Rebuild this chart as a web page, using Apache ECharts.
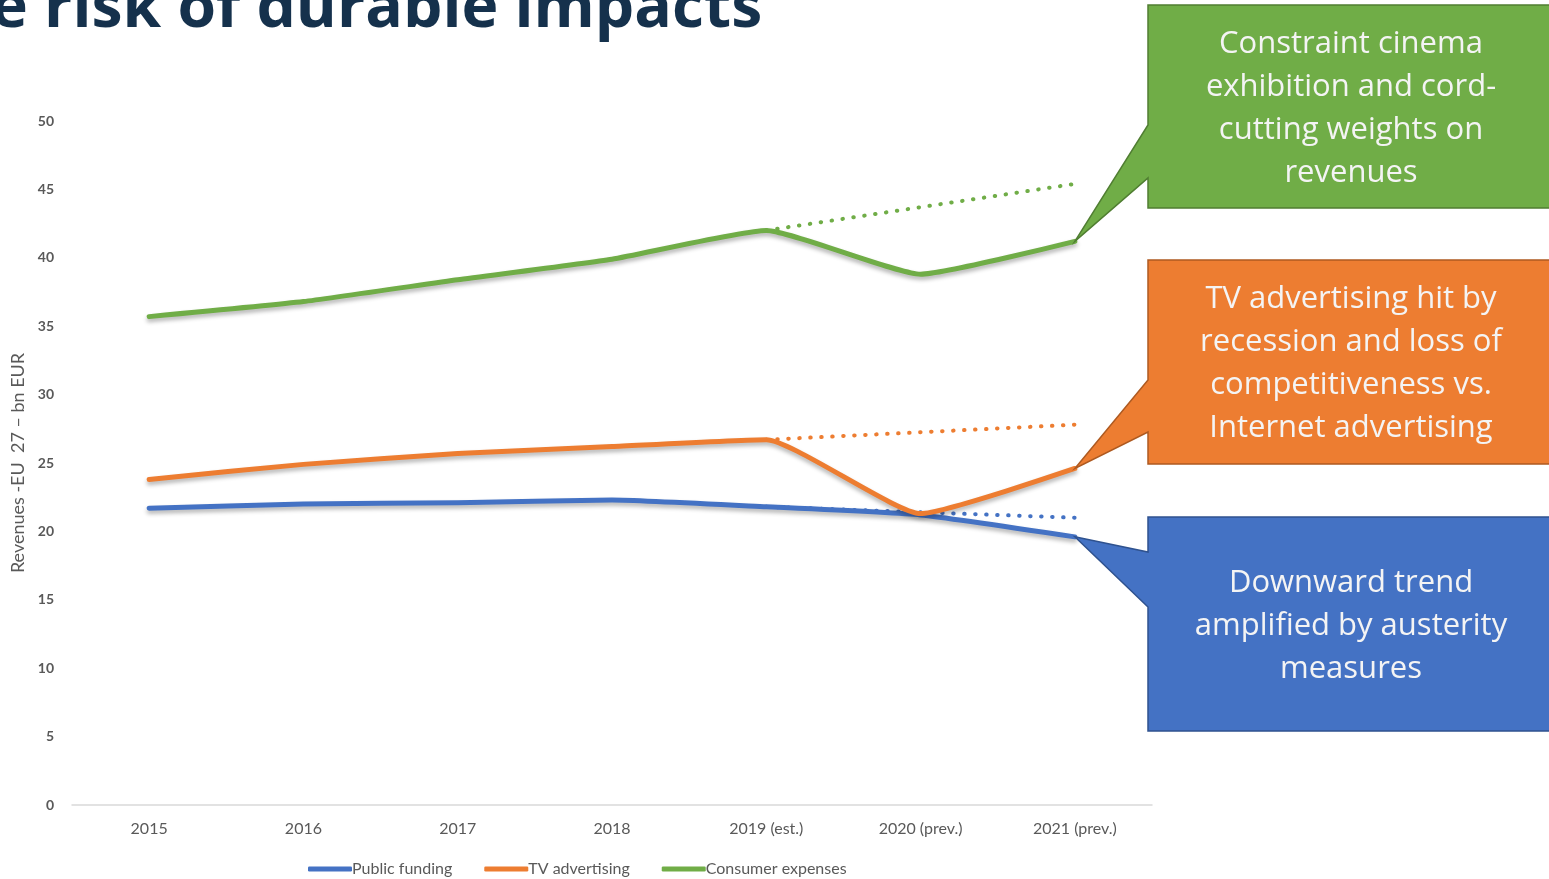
<!DOCTYPE html>
<html>
<head>
<meta charset="utf-8">
<script src="https://cdn.jsdelivr.net/npm/echarts@6/dist/echarts.min.js"></script>
<style>
  html, body { margin: 0; padding: 0; background: #fff; }
  #main { width: 1549px; height: 879px; }
</style>
</head>
<body>
<div id="main"></div>
<script>
// categories and values (bn EUR)
const years = ['2015', '2016', '2017', '2018', '2019 (est.)', '2020 (prev.)', '2021 (prev.)'];
const publicFunding = [21.7, 22.0, 22.1, 22.3, 21.8, 21.2, 19.6];
const tvAdvertising = [23.8, 24.9, 25.7, 26.2, 26.7, 21.3, 24.6];
const consumerExpenses = [35.7, 36.8, 38.4, 39.9, 42.0, 38.8, 41.2];
// pre-crisis trend lines (dotted), 2019 -> 2021
const publicTrend = [null, null, null, null, 21.8, null, 21.0];
const tvTrend = [null, null, null, null, 26.7, null, 27.8];
const consumerTrend = [null, null, null, null, 42.0, null, 45.4];

const yTicks = { min: 0, max: 50, interval: 5 };

const callouts = [
  { series: 'Consumer expenses', color: '#70AD47', border: '#507E32', top: 5, bottom: 208, base: [125, 178],
    text: 'Constraint cinema\nexhibition and cord-\ncutting weights on\nrevenues' },
  { series: 'TV advertising', color: '#ED7D31', border: '#AE5A21', top: 260, bottom: 464, base: [380, 432],
    text: 'TV advertising hit by\nrecession and loss of\ncompetitiveness vs.\nInternet advertising' },
  { series: 'Public funding', color: '#4472C4', border: '#2F528F', top: 517, bottom: 731, base: [552, 607],
    text: 'Downward trend\namplified by austerity\nmeasures' }
];

const myChart = echarts.init(document.getElementById('main'));

const shadow = { shadowColor: 'rgba(0,0,0,0.3)', shadowBlur: 4, shadowOffsetY: 3 };

function solid(name, color, data) {
  return {
    name, type: 'line', data, smooth: 0.15, symbol: 'none',
    lineStyle: Object.assign({ color, width: 5, cap: 'round', join: 'round' }, shadow),
    itemStyle: { color }, z: 3
  };
}
function dotted(name, color, data) {
  return {
    name, type: 'line', data, connectNulls: true, symbol: 'none',
    lineStyle: { color, width: 4, type: [0.5, 10.5], cap: 'round' },
    itemStyle: { color }, z: 2
  };
}

const option = {
  animation: false,
  grid: { left: 72, right: 397, top: 121, bottom: 74 },
  legend: {
    data: ['Public funding', 'TV advertising', 'Consumer expenses'],
    bottom: 2, left: 308, padding: 0, icon: 'roundRect', itemWidth: 44, itemHeight: 5, itemGap: 32,
    textStyle: { fontFamily: 'Lato', fontSize: 16, color: '#595959', padding: [0, 0, 0, -5] }
  },
  xAxis: {
    type: 'category', data: years,
    axisLine: { lineStyle: { color: '#d9d9d9', width: 1.5 } },
    axisTick: { show: false },
    axisLabel: { fontFamily: 'Lato', fontSize: 16, color: '#595959', margin: 16 }
  },
  yAxis: {
    type: 'value', min: yTicks.min, max: yTicks.max, interval: yTicks.interval,
    name: 'Revenues -EU  27 – bn EUR', nameLocation: 'middle', nameGap: 42,
    nameTextStyle: { fontFamily: 'Lato', fontSize: 18, color: '#595959' },
    axisLine: { show: false }, axisTick: { show: false }, splitLine: { show: false },
    axisLabel: { fontFamily: 'Lato', fontSize: 14, fontWeight: 'bold', color: '#595959', margin: 18 }
  },
  series: [
    dotted('Public funding trend', '#4472C4', publicTrend),
    dotted('TV advertising trend', '#ED7D31', tvTrend),
    dotted('Consumer expenses trend', '#70AD47', consumerTrend),
    solid('Public funding', '#4472C4', publicFunding),
    solid('TV advertising', '#ED7D31', tvAdvertising),
    solid('Consumer expenses', '#70AD47', consumerExpenses)
  ]
};
myChart.setOption(option);

// callout boxes point at the last data point of each series
const dataBySeries = {
  'Public funding': publicFunding,
  'TV advertising': tvAdvertising,
  'Consumer expenses': consumerExpenses
};
const boxLeft = 1148, boxRight = 1560;
const graphics = [{
  type: 'text', x: -9, y: -20, z: 10, scaleX: 1.04,
  style: { text: 'e risk of durable impacts', font: 'bold 60px "Open Sans"', fill: '#15314C' }
}];
callouts.forEach(c => {
  const vals = dataBySeries[c.series];
  const last = vals.length - 1;
  const tip = myChart.convertToPixel({ seriesName: c.series }, [last, vals[last]]);
  graphics.push({
    type: 'polygon', z: 10,
    shape: { points: [
      [boxLeft, c.top], [boxRight, c.top], [boxRight, c.bottom], [boxLeft, c.bottom],
      [boxLeft, c.base[1]], tip, [boxLeft, c.base[0]]
    ] },
    style: { fill: c.color, stroke: c.border, lineWidth: 1.5 }
  });
  graphics.push({
    type: 'text', z: 11, x: 1351, y: (c.top + c.bottom) / 2 + 2,
    style: { text: c.text, font: '31px "Open Sans"', fill: '#F4F4F4',
      align: 'center', verticalAlign: 'middle', lineHeight: 43 }
  });
});
myChart.setOption({ graphic: graphics });
</script>
</body>
</html>
